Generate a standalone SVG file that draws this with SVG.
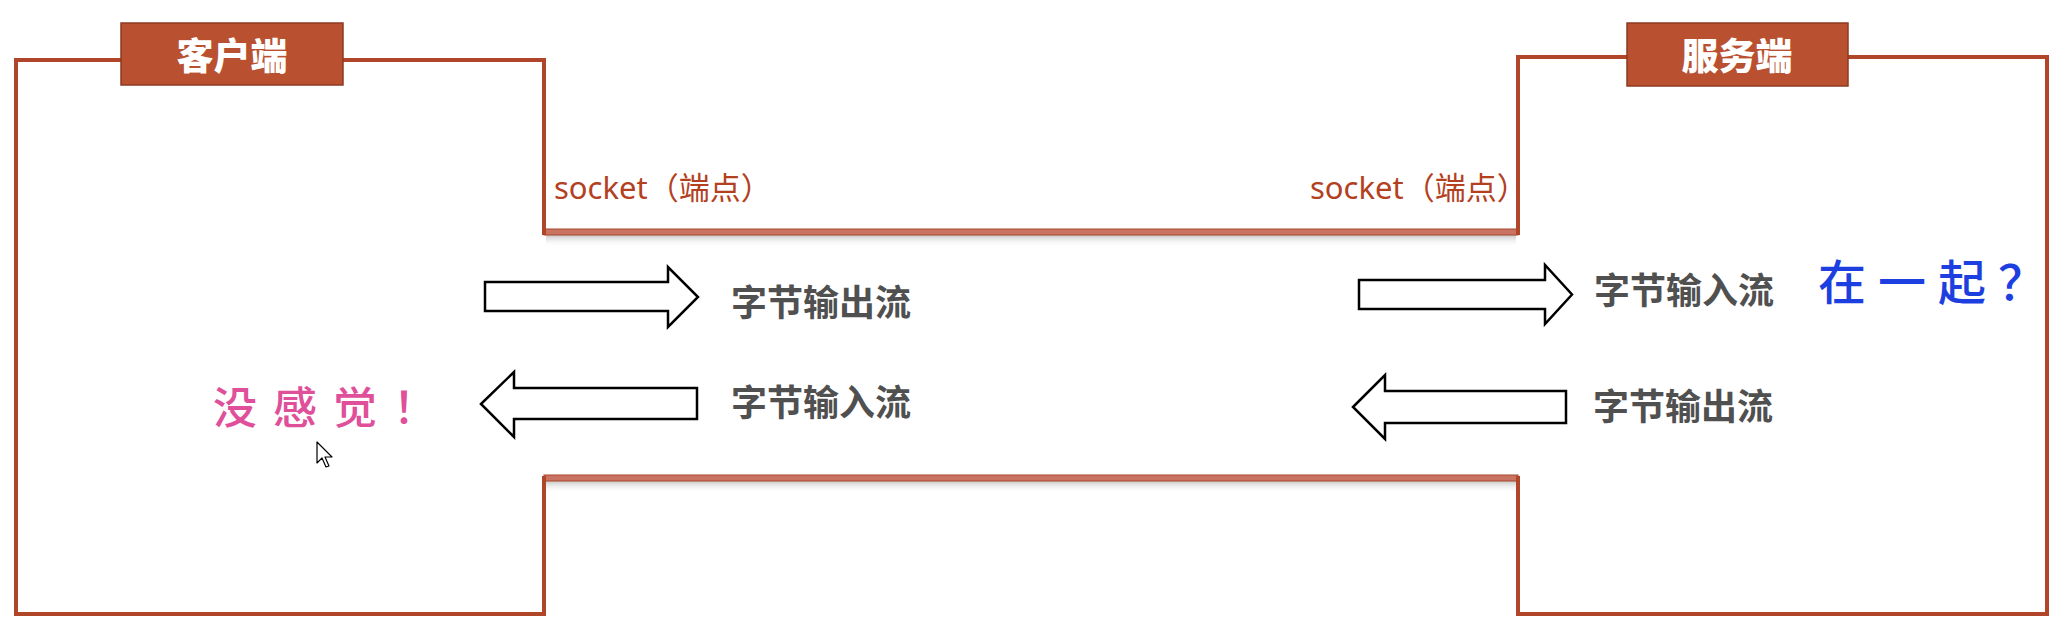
<svg xmlns="http://www.w3.org/2000/svg" width="2072" height="630" viewBox="0 0 2072 630">
  <defs>
    <style>
      .frame { fill: none; stroke: #B0452A; stroke-width: 4; stroke-linejoin: miter; }
      .chan { fill: #C97462; stroke: #A9472D; stroke-width: 1; }
      .hdr { fill: #B9502F; stroke: #8F3A22; stroke-width: 1.5; }
      .hdrtxt { font-family: "Noto Sans CJK SC", "Liberation Sans", sans-serif; font-weight: 900; font-size: 37px; fill: #ffffff; text-anchor: middle; }
      .sock { font-family: "Noto Sans", "Noto Sans CJK SC", sans-serif; font-size: 31px; fill: #B3401E; }
      .lbl { font-family: "Noto Sans CJK SC", "Liberation Sans", sans-serif; font-weight: 700; font-size: 36px; fill: #505050; }
      .arrow { fill: #ffffff; stroke: #000000; stroke-width: 2.5; stroke-linejoin: miter; }
      .blue { font-family: "Noto Sans CJK SC", sans-serif; font-weight: 500; font-size: 48px; fill: #1E3FE0; letter-spacing: 12px; }
      .pink { font-family: "Noto Sans CJK SC", sans-serif; font-weight: 500; font-size: 44px; fill: #E0509A; letter-spacing: 16px; }
    </style>
    <linearGradient id="shadow" x1="0" y1="0" x2="0" y2="1">
      <stop offset="0" stop-color="#9a9a9a" stop-opacity="0.55"/>
      <stop offset="1" stop-color="#ffffff" stop-opacity="0"/>
    </linearGradient>
  </defs>
  <rect x="0" y="0" width="2072" height="630" fill="#ffffff"/>

  <g id="connectors">
    <rect x="546" y="235" width="970" height="12" fill="url(#shadow)"/>
    <rect x="546" y="481" width="970" height="12" fill="url(#shadow)"/>
    <rect class="chan" x="544" y="229" width="974" height="6"/>
    <rect class="chan" x="544" y="475" width="974" height="6"/>
  </g>

  <g id="client">
    <path class="frame" d="M544,235 V60 H16 V614 H544 V476"/>
    <rect class="hdr" x="121" y="23" width="222" height="62"/>
    <text class="hdrtxt" x="232" y="70">客户端</text>
    <text class="sock" x="554" y="199">socket（端点）</text>
  </g>

  <g id="server">
    <path class="frame" d="M1518,235 V57 H2047 V614 H1518 V476"/>
    <rect class="hdr" x="1627" y="23" width="221" height="63"/>
    <text class="hdrtxt" x="1737" y="70">服务端</text>
    <text class="sock" x="1310" y="199">socket（端点）</text>
  </g>

  <g id="client-out">
    <polygon class="arrow" points="485,282 668,282 668,267 698,297 668,327 668,311 485,311"/>
    <text class="lbl" x="731" y="316">字节输出流</text>
  </g>
  <g id="client-in">
    <polygon class="arrow" points="481,404 514,372 514,388 697,388 697,419 514,419 514,437"/>
    <text class="lbl" x="731" y="416">字节输入流</text>
  </g>
  <g id="server-in">
    <polygon class="arrow" points="1359,280 1545,280 1545,265 1572,294.5 1545,324 1545,309 1359,309"/>
    <text class="lbl" x="1594" y="304">字节输入流</text>
  </g>
  <g id="server-out">
    <polygon class="arrow" points="1353,407 1385,375 1385,391 1566,391 1566,423 1385,423 1385,439"/>
    <text class="lbl" x="1593" y="420">字节输出流</text>
  </g>

  <g id="notes">
    <text class="blue" x="1818" y="300">在一起？</text>
    <text class="pink" x="213" y="424">没感觉！</text>
    <polygon points="317,442 317,463 322,458 326,467 329,466 325,457 332,457" fill="#ffffff" stroke="#000000" stroke-width="1.2" stroke-linejoin="round"/>
  </g>
</svg>
